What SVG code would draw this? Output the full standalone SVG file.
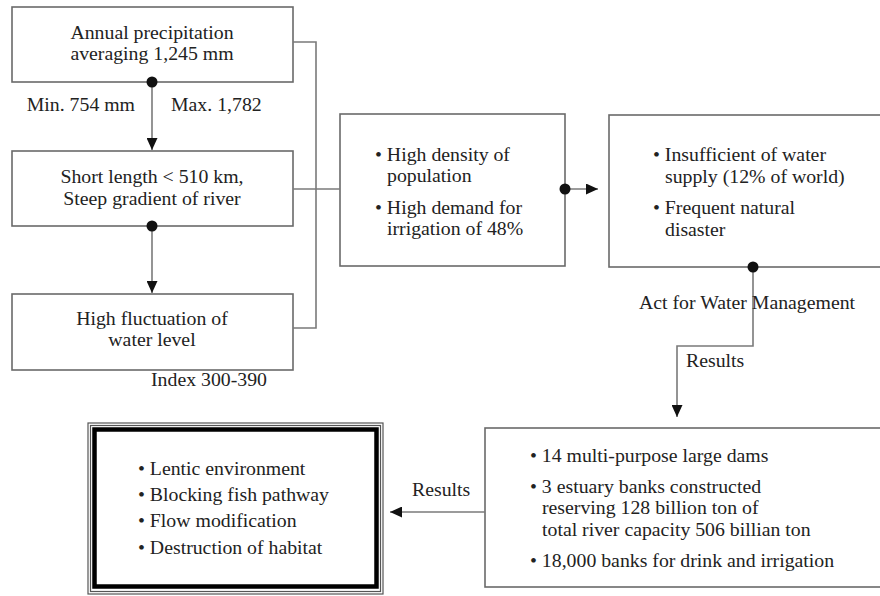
<svg xmlns="http://www.w3.org/2000/svg" width="880" height="596" viewBox="0 0 880 596">
<defs>
<style>
.box{fill:#fff;stroke:#6a6a6a;stroke-width:1.6}
.ln{fill:none;stroke:#7a7a7a;stroke-width:1.6}
text{font-family:"Liberation Serif","Times New Roman",serif;font-size:19.8px;fill:#222}
.c{text-anchor:middle}
.dot{fill:#111}
</style>
<marker id="ah" markerUnits="userSpaceOnUse" markerWidth="12" markerHeight="11" refX="12" refY="5.5" orient="auto">
<path d="M0,0 L12,5.5 L0,11 z" fill="#111"/>
</marker>
</defs>
<rect width="880" height="596" fill="#fff"/>
<g id="n1">
<rect class="box" x="12" y="7" width="281" height="75"/>
<text x="152" y="39" class="c">Annual precipitation</text>
<text x="152" y="60" class="c">averaging 1,245 mm</text>
</g>
<g id="n2">
<rect class="box" x="12" y="151" width="281" height="75"/>
<text x="152" y="183" class="c">Short length &lt; 510 km,</text>
<text x="152" y="205" class="c">Steep gradient of river</text>
</g>
<g id="n3">
<rect class="box" x="12" y="294" width="281" height="76"/>
<text x="152" y="325" class="c">High fluctuation of</text>
<text x="152" y="346" class="c">water level</text>
</g>
<g id="n4">
<rect class="box" x="340" y="114" width="225" height="152"/>
<text x="375" y="161">• High density of</text>
<text x="387" y="182">population</text>
<text x="375" y="214">• High demand for</text>
<text x="387" y="235">irrigation of 48%</text>
</g>
<g id="n5">
<rect class="box" x="609" y="115" width="273" height="152"/>
<text x="653" y="161">• Insufficient of water</text>
<text x="665" y="183">supply (12% of world)</text>
<text x="653" y="214">• Frequent natural</text>
<text x="665" y="236">disaster</text>
</g>
<g id="n6">
<rect class="box" x="485" y="428" width="397" height="159"/>
<text x="530" y="462">• 14 multi-purpose large dams</text>
<text x="530" y="493">• 3 estuary banks constructed</text>
<text x="542" y="514">reserving 128 billion ton of</text>
<text x="542" y="536">total river capacity 506 billian ton</text>
<text x="530" y="567">• 18,000 banks for drink and irrigation</text>
</g>
<g id="n7">
<rect x="88" y="423" width="295" height="171" fill="#fff" stroke="#555" stroke-width="1.2"/>
<rect x="90.5" y="425.5" width="290" height="166" fill="none" stroke="#555" stroke-width="1.2"/>
<rect x="94.5" y="429.5" width="282" height="157" fill="none" stroke="#000" stroke-width="4.5"/>
<text x="138" y="475">• Lentic environment</text>
<text x="138" y="501">• Blocking fish pathway</text>
<text x="138" y="527">• Flow modification</text>
<text x="138" y="554">• Destruction of habitat</text>
</g>
<g id="connectors">
<path class="ln" d="M293,42 H316 V328 H293"/>
<path class="ln" d="M293,189 H340"/>
<path class="ln" d="M152,82 V150" marker-end="url(#ah)"/>
<path class="ln" d="M152,226 V293" marker-end="url(#ah)"/>
<path class="ln" d="M565,189 H598" marker-end="url(#ah)"/>
<path class="ln" d="M753,267 V346 H677 V417" marker-end="url(#ah)"/>
<path class="ln" d="M485,512 H390" marker-end="url(#ah)"/>
<circle class="dot" cx="152" cy="82" r="5.5"/>
<circle class="dot" cx="152" cy="226" r="5.5"/>
<circle class="dot" cx="565" cy="189" r="5.5"/>
<circle class="dot" cx="753" cy="267" r="5.5"/>
<text x="135" y="111" text-anchor="end">Min. 754 mm</text>
<text x="171" y="111">Max. 1,782</text>
<text x="209" y="386" class="c">Index 300-390</text>
<text x="639" y="309">Act for Water Management</text>
<text x="686" y="367">Results</text>
<text x="412" y="496">Results</text>
</g>
</svg>
